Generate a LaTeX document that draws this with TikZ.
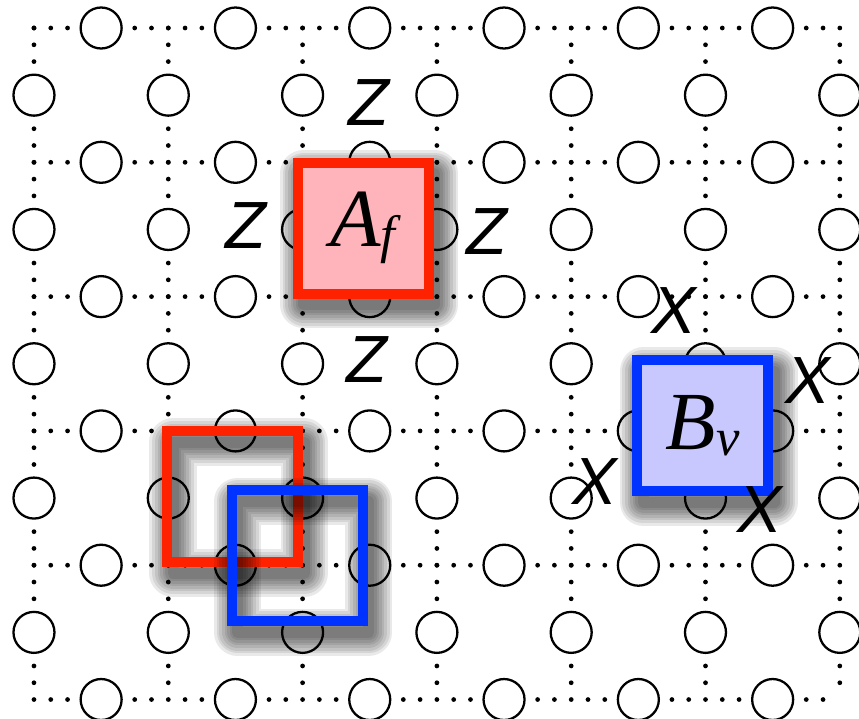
\documentclass[tikz,border=0pt]{standalone}
\usepackage{fontspec}
\newfontfamily\paulifont{Liberation Sans}
\newfontfamily\opfont{Liberation Serif}

\definecolor{plaqred}{RGB}{255,34,0}
\definecolor{plaqfill}{RGB}{255,179,186}
\definecolor{starblue}{RGB}{0,51,255}
\definecolor{starfill}{RGB}{200,200,255}

\tikzset{
    shadowring/.style={preaction={draw=black, opacity=0.085, line width=#1, line join=round,
        transform canvas={shift={(0.12cm,-0.22cm)}}}},
    softshadow/.style={shadowring=0.95cm, shadowring=0.84cm, shadowring=0.73cm,
        shadowring=0.62cm, shadowring=0.52cm, shadowring=0.42cm, shadowring=0.32cm,
        shadowring=0.22cm}
}
% operator symbol with lowered index
\newcommand{\opsym}[2]{{\opfont\itshape\fontsize{47}{48}\selectfont #1%
    \raisebox{-0.12cm}{\fontsize{30}{30}\selectfont #2}}}

\begin{document}
\begin{tikzpicture}[
    x=2.686cm, y=-2.686cm,
    link/.style={line width=2.7pt, dash pattern=on 0pt off 0.33575cm, line cap=round},
    qubit/.style={draw, circle, fill=white, line width=1.3pt, minimum size=0.82cm, inner sep=0pt},
    opbox/.style={line width=0.2cm, minimum size=2.62cm, inner sep=0pt, softshadow},
    plaqbox/.style={opbox, draw=plaqred},
    vertexbox/.style={opbox, draw=starblue},
    pauli/.style={font=\paulifont\fontsize{38}{40}\selectfont\itshape, inner sep=0pt}
]
\useasboundingbox (-0.253,-0.2085) rectangle (6.143,5.145);

% Lattice vertices
\foreach \i in {0,...,6}
    \foreach \j in {0,...,5}
        \coordinate (p-\i-\j) at (\i,\j);

% Dotted links
\foreach \j in {0,...,5}
    \draw[link] (p-0-\j) -- (p-6-\j);
\foreach \i in {0,...,6}
    \draw[link] (p-\i-0) -- (p-\i-5);

% Qubits on horizontal links
\foreach \i in {0,...,5}
    \foreach \j in {0,...,5}
        \node[qubit] (h-\i-\j) at (\i+0.5,\j) {};
% Qubits on vertical links
\foreach \i in {0,...,6}
    \foreach \j in {0,...,4}
        \node[qubit] (v-\i-\j) at (\i,\j+0.5) {};

% Plaquette operator
\node[plaqbox, fill=plaqfill] (Af) at (2.45,1.49) {\opsym{A}{f}};
\node[pauli] (zt) at (2.494,0.558) {Z};
\node[pauli] (zl) at (1.579,1.474) {Z};
\node[pauli] (zr) at (3.373,1.512) {Z};
\node[pauli] (zb) at (2.479,2.465) {Z};

% Vertex operator
\node[vertexbox, fill=starfill] (Bv) at (4.98,2.96) {\opsym{B}{v}};
\node[pauli] (xt) at (4.765,2.107) {X};
\node[pauli] (xr) at (5.763,2.628) {X};
\node[pauli] (xl) at (4.177,3.380) {X};
\node[pauli] (xb) at (5.406,3.582) {X};

% Overlapping pair
\node[plaqbox] (plaq) at (1.48,3.49) {};
\node[vertexbox] (vert) at (1.96,3.93) {};

\end{tikzpicture}
\end{document}
